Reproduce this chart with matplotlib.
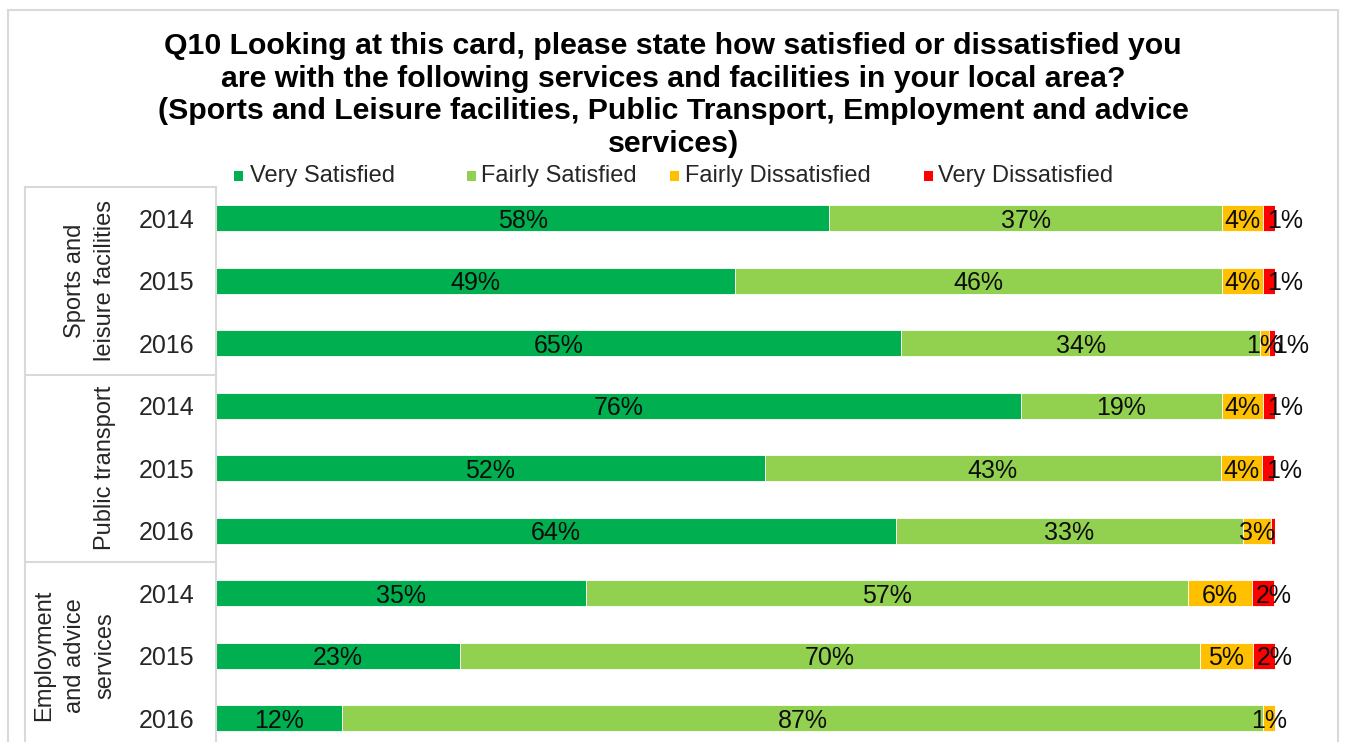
import matplotlib
matplotlib.use("Agg")
import matplotlib.pyplot as plt
from matplotlib.patches import Rectangle
import matplotlib.transforms as mtransforms

plt.rcParams['font.family'] = ['Liberation Sans', 'DejaVu Sans']

years = ["2014", "2015", "2016"] * 3
groups = ["Sports and\nleisure facilities", "Public transport", "Employment\nand advice\nservices"]
series_names = ["Very Satisfied", "Fairly Satisfied", "Fairly Dissatisfied", "Very Dissatisfied"]
very_satisfied = [57.9, 49.0, 64.7, 76.0, 51.8, 64.2, 34.9, 23.0, 11.9]
fairly_satisfied = [37.1, 46.0, 33.9, 19.0, 43.1, 32.8, 56.9, 69.9, 87.0]
fairly_dissatisfied = [3.9, 3.9, 0.8, 3.9, 3.9, 2.6, 6.0, 5.0, 1.1]
very_dissatisfied = [1.1, 1.1, 0.6, 1.1, 1.1, 0.4, 2.1, 2.1, 0.0]
colors = ["#00B050", "#92D050", "#FFC000", "#FF0000"]

title = ("Q10 Looking at this card, please state how satisfied or dissatisfied you\n"
         "are with the following services and facilities in your local area?\n"
         "(Sports and Leisure facilities, Public Transport, Employment and advice\n"
         "services)")

W, H = 1345, 742
fig = plt.figure(figsize=(W / 100, H / 100), dpi=100)

# axes geometry (pixels)
x0, x100 = 216, 1275
ytop, ybot = 187, 749.5
ax = fig.add_axes([x0 / W, (H - ybot) / H, (x100 - x0) / W, (ybot - ytop) / H])

FS = 18
series = [very_satisfied, fairly_satisfied, fairly_dissatisfied, very_dissatisfied]
n = len(years)
ypos = list(range(n))
left = [0.0] * n
for k, (vals, col) in enumerate(zip(series, colors)):
    ax.barh(ypos, vals, left=left, height=0.42, color=col, edgecolor='white', linewidth=0.6)
    for i, v in enumerate(vals):
        lab = f"{v:.0f}%"
        if round(v) >= 1:
            if k == 3:
                ax.annotate(lab, (left[i], i), xytext=(3, 0), textcoords='offset points',
                            ha='left', va='center_baseline', fontsize=FS, color='#0D0D0D',
                            annotation_clip=False)
            else:
                ax.text(left[i] + v / 2, i, lab, ha='center', va='center_baseline',
                        fontsize=FS, color='#0D0D0D', clip_on=False)
    left = [a + b for a, b in zip(left, vals)]

ax.set_xlim(0, 100)
ax.set_ylim(n - 0.5, -0.5)
ax.set_xticks([])
ax.set_yticks(ypos)
ax.set_yticklabels(years, fontsize=FS, color='#262626')
ax.tick_params(axis='y', length=0, pad=15.5)
for s in ['top', 'right', 'bottom']:
    ax.spines[s].set_visible(False)
ax.spines['left'].set_color('#D9D9D9')
ax.spines['left'].set_linewidth(1.5)

# group table lines
trans = mtransforms.blended_transform_factory(ax.transAxes, ax.transData)
xl = (25 - x0) / (x100 - x0)
for yb in [-0.5, 2.5, 5.5, 8.5]:
    ax.plot([xl, 0], [yb, yb], transform=trans, color='#D9D9D9', lw=1.5, clip_on=False)
ax.plot([xl, xl], [-0.5, 8.5], transform=trans, color='#D9D9D9', lw=1.5, clip_on=False)

xg = (116 - x0) / (x100 - x0)
for g, lab in enumerate(groups):
    ax.text(xg, 3 * g + 1, lab, transform=trans, rotation=90, ha='right', va='center',
            multialignment='center', fontsize=17, color='#262626', linespacing=1.5,
            clip_on=False)

# title
fig.text(673 / W, 1 - 95 / H, title, ha='center', va='center', multialignment='center',
         fontsize=21.8, fontweight='bold', color='black', linespacing=1.2)

# legend (manual layout of swatches and labels)
leg_sq = [234, 467, 670, 924]
leg_tx = [250, 481, 685, 938]
leg_y = 176
sq = 9
for c, name, xs, xt in zip(colors, series_names, leg_sq, leg_tx):
    fig.add_artist(Rectangle((xs / W, 1 - (leg_y + sq / 2) / H), sq / W, sq / H,
                             facecolor=c, edgecolor='none', transform=fig.transFigure))
    fig.text(xt / W, 1 - leg_y / H, name, ha='left', va='center', fontsize=17,
             color='#262626')

# chart frame
fig.add_artist(Rectangle((8 / W, -0.02), 1330 / W, (H - 10) / H + 0.02, fill=False,
                         edgecolor='#D9D9D9', linewidth=1.5, transform=fig.transFigure))

fig.savefig("out.png", dpi=100)
